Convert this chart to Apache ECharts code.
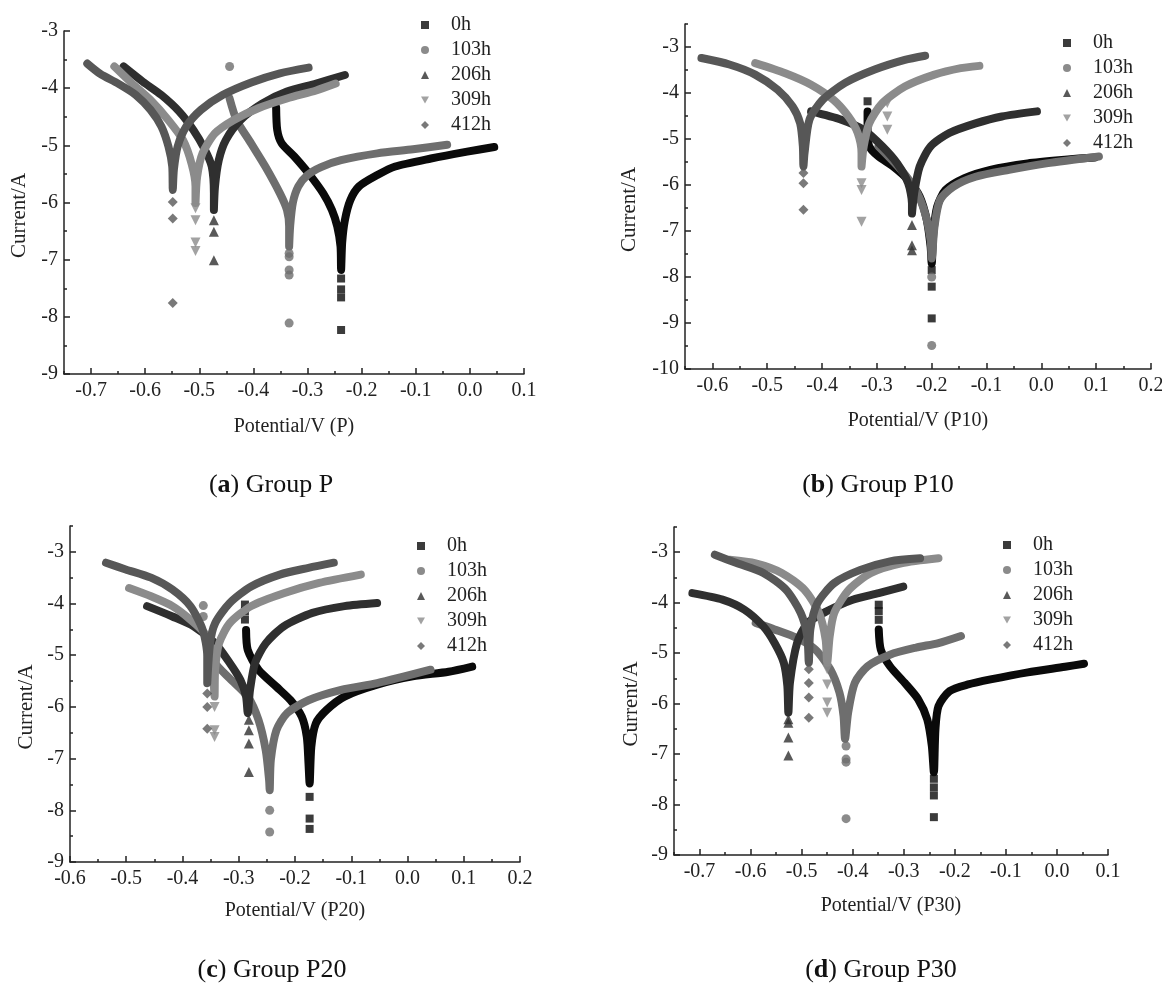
<!DOCTYPE html>
<html><head><meta charset="utf-8">
<script src="https://cdn.jsdelivr.net/npm/echarts@6/dist/echarts.min.js"></script>
<style>html,body{margin:0;padding:0;background:#fff}#c{width:1162px;height:992px}</style>
</head><body><div id="c"></div>
<script>
// ---------- categories ----------
const times = ['0h', '103h', '206h', '309h', '412h'];

// ---------- tick labels ----------
const aXTicks = [-0.7, -0.6, -0.5, -0.4, -0.3, -0.2, -0.1, 0.0, 0.1];
const aXMinor = [-0.75, -0.65, -0.55, -0.45, -0.35, -0.25, -0.15, -0.05, 0.05];
const aYTicks = [-9, -8, -7, -6, -5, -4, -3];
const aYMinor = [-8.5, -7.5, -6.5, -5.5, -4.5, -3.5];
const bXTicks = [-0.6, -0.5, -0.4, -0.3, -0.2, -0.1, 0.0, 0.1, 0.2];
const bXMinor = [-0.65, -0.55, -0.45, -0.35, -0.25, -0.15, -0.05, 0.05, 0.15];
const bYTicks = [-10, -9, -8, -7, -6, -5, -4, -3];
const bYMinor = [-9.5, -8.5, -7.5, -6.5, -5.5, -4.5, -3.5, -2.5];
const cXTicks = [-0.6, -0.5, -0.4, -0.3, -0.2, -0.1, 0.0, 0.1, 0.2];
const cXMinor = [-0.55, -0.45, -0.35, -0.25, -0.15, -0.05, 0.05, 0.15];
const cYTicks = [-9, -8, -7, -6, -5, -4, -3];
const cYMinor = [-8.5, -7.5, -6.5, -5.5, -4.5, -3.5, -2.5];
const dXTicks = [-0.7, -0.6, -0.5, -0.4, -0.3, -0.2, -0.1, 0.0, 0.1];
const dXMinor = [-0.75, -0.65, -0.55, -0.45, -0.35, -0.25, -0.15, -0.05, 0.05];
const dYTicks = [-9, -8, -7, -6, -5, -4, -3];
const dYMinor = [-8.5, -7.5, -6.5, -5.5, -4.5, -3.5, -2.5];

// ---------- (a) Group P ----------
const aLine0h = [[-0.358,-4.34],[-0.356,-4.73],[-0.348,-4.96],[-0.324,-5.20],[-0.298,-5.49],[-0.271,-5.84],[-0.255,-6.13],[-0.245,-6.42],[-0.239,-6.77],[-0.238,-7.18],[-0.236,-6.70],[-0.231,-6.31],[-0.221,-5.96],[-0.205,-5.72],[-0.171,-5.52],[-0.138,-5.37],[-0.072,-5.23],[-0.005,-5.11],[0.045,-5.03]];
const aDots0h = [[-0.238,-7.33],[-0.238,-7.52],[-0.238,-7.66],[-0.238,-8.23]];
const aLine103h = [[-0.444,-4.18],[-0.431,-4.56],[-0.404,-4.97],[-0.378,-5.37],[-0.351,-5.84],[-0.338,-6.13],[-0.334,-6.42],[-0.334,-6.77],[-0.332,-6.40],[-0.327,-6.00],[-0.317,-5.72],[-0.300,-5.52],[-0.275,-5.38],[-0.238,-5.26],[-0.171,-5.14],[-0.105,-5.07],[-0.042,-4.99]];
const aDots103h = [[-0.444,-3.62],[-0.334,-6.89],[-0.334,-6.95],[-0.334,-7.18],[-0.334,-7.27],[-0.334,-8.11]];
const aLine206h = [[-0.640,-3.62],[-0.604,-3.89],[-0.570,-4.12],[-0.537,-4.41],[-0.511,-4.73],[-0.491,-5.05],[-0.477,-5.37],[-0.473,-5.84],[-0.473,-6.13],[-0.471,-5.72],[-0.464,-5.26],[-0.451,-4.91],[-0.424,-4.56],[-0.384,-4.27],[-0.338,-4.06],[-0.284,-3.92],[-0.231,-3.77]];
const aDots206h = [[-0.473,-6.31],[-0.473,-6.51],[-0.473,-7.01]];
const aLine309h = [[-0.657,-3.62],[-0.624,-3.92],[-0.590,-4.21],[-0.557,-4.56],[-0.530,-4.91],[-0.514,-5.33],[-0.507,-5.72],[-0.507,-6.01],[-0.504,-5.55],[-0.494,-5.14],[-0.471,-4.79],[-0.437,-4.56],[-0.391,-4.35],[-0.338,-4.18],[-0.284,-4.04],[-0.248,-3.92]];
const aDots309h = [[-0.507,-6.10],[-0.507,-6.31],[-0.507,-6.70],[-0.507,-6.85]];
const aLine412h = [[-0.707,-3.57],[-0.683,-3.75],[-0.650,-3.92],[-0.617,-4.12],[-0.590,-4.38],[-0.570,-4.67],[-0.557,-5.02],[-0.550,-5.37],[-0.549,-5.78],[-0.547,-5.43],[-0.540,-5.02],[-0.524,-4.67],[-0.497,-4.38],[-0.457,-4.12],[-0.404,-3.90],[-0.351,-3.74],[-0.298,-3.64]];
const aDots412h = [[-0.549,-5.99],[-0.549,-6.28],[-0.549,-7.76]];

// ---------- (b) Group P10 ----------
const bLine0h = [[-0.317,-4.40],[-0.317,-4.80],[-0.314,-5.16],[-0.297,-5.38],[-0.270,-5.60],[-0.243,-5.89],[-0.222,-6.25],[-0.209,-6.76],[-0.202,-7.34],[-0.200,-7.71],[-0.197,-7.05],[-0.190,-6.47],[-0.175,-6.11],[-0.140,-5.85],[-0.093,-5.67],[-0.025,-5.53],[0.043,-5.45],[0.098,-5.40]];
const bDots0h = [[-0.317,-4.18],[-0.200,-7.85],[-0.200,-8.21],[-0.200,-8.90]];
const bLine103h = [[-0.297,-5.16],[-0.256,-5.67],[-0.229,-6.11],[-0.212,-6.62],[-0.202,-7.20],[-0.200,-7.60],[-0.195,-6.91],[-0.185,-6.33],[-0.161,-6.04],[-0.120,-5.82],[-0.059,-5.67],[0.009,-5.53],[0.105,-5.38]];
const bDots103h = [[-0.200,-8.00],[-0.200,-9.49]];
const bLine206h = [[-0.420,-4.40],[-0.365,-4.58],[-0.324,-4.80],[-0.290,-5.16],[-0.263,-5.53],[-0.243,-5.96],[-0.236,-6.40],[-0.236,-6.62],[-0.232,-6.18],[-0.222,-5.60],[-0.202,-5.16],[-0.168,-4.87],[-0.120,-4.66],[-0.072,-4.51],[-0.008,-4.40]];
const bDots206h = [[-0.236,-6.87],[-0.236,-7.31],[-0.236,-7.42]];
const bLine309h = [[-0.522,-3.35],[-0.467,-3.57],[-0.420,-3.82],[-0.379,-4.15],[-0.352,-4.51],[-0.335,-4.87],[-0.328,-5.31],[-0.328,-5.60],[-0.324,-5.16],[-0.314,-4.66],[-0.290,-4.22],[-0.249,-3.86],[-0.195,-3.60],[-0.147,-3.46],[-0.113,-3.41]];
const bDots309h = [[-0.328,-5.96],[-0.328,-6.11],[-0.328,-6.80],[-0.281,-4.22],[-0.281,-4.51],[-0.281,-4.80]];
const bLine412h = [[-0.620,-3.24],[-0.569,-3.38],[-0.522,-3.60],[-0.481,-3.93],[-0.454,-4.29],[-0.440,-4.66],[-0.435,-5.16],[-0.434,-5.60],[-0.432,-5.31],[-0.423,-4.58],[-0.399,-4.15],[-0.358,-3.78],[-0.304,-3.49],[-0.249,-3.28],[-0.212,-3.19]];
const bDots412h = [[-0.434,-5.74],[-0.434,-5.96],[-0.434,-6.54]];

// ---------- (c) Group P20 ----------
const cLine0h = [[-0.287,-4.51],[-0.284,-4.90],[-0.265,-5.28],[-0.233,-5.61],[-0.208,-5.87],[-0.188,-6.19],[-0.179,-6.58],[-0.176,-7.09],[-0.174,-7.48],[-0.171,-6.77],[-0.163,-6.32],[-0.144,-6.06],[-0.112,-5.80],[-0.054,-5.57],[0.009,-5.41],[0.073,-5.32],[0.115,-5.22]];
const cDots0h = [[-0.289,-4.02],[-0.289,-4.15],[-0.289,-4.31],[-0.174,-7.74],[-0.174,-8.16],[-0.174,-8.36]];
const cLine103h = [[-0.354,-4.77],[-0.342,-5.15],[-0.316,-5.45],[-0.284,-5.80],[-0.265,-6.25],[-0.252,-6.84],[-0.246,-7.42],[-0.245,-7.61],[-0.243,-7.03],[-0.233,-6.45],[-0.214,-6.12],[-0.176,-5.87],[-0.118,-5.67],[-0.054,-5.54],[0.041,-5.28]];
const cDots103h = [[-0.363,-4.04],[-0.363,-4.25],[-0.245,-8.00],[-0.245,-8.42]];
const cLine206h = [[-0.463,-4.05],[-0.418,-4.25],[-0.380,-4.44],[-0.342,-4.77],[-0.316,-5.15],[-0.297,-5.48],[-0.287,-5.80],[-0.284,-6.12],[-0.280,-5.67],[-0.271,-5.15],[-0.252,-4.77],[-0.220,-4.44],[-0.169,-4.18],[-0.112,-4.05],[-0.054,-3.99]];
const cDots206h = [[-0.282,-6.25],[-0.282,-6.45],[-0.282,-6.71],[-0.282,-7.26]];
const cLine309h = [[-0.495,-3.70],[-0.456,-3.86],[-0.418,-4.05],[-0.386,-4.31],[-0.361,-4.57],[-0.348,-4.90],[-0.345,-5.41],[-0.343,-5.80],[-0.342,-5.28],[-0.335,-4.77],[-0.316,-4.38],[-0.278,-4.05],[-0.220,-3.80],[-0.157,-3.60],[-0.083,-3.44]];
const cDots309h = [[-0.343,-6.00],[-0.343,-6.45],[-0.343,-6.58]];
const cLine412h = [[-0.536,-3.21],[-0.501,-3.34],[-0.456,-3.50],[-0.418,-3.73],[-0.386,-4.05],[-0.364,-4.51],[-0.356,-5.02],[-0.356,-5.54],[-0.351,-4.77],[-0.342,-4.38],[-0.316,-3.99],[-0.278,-3.67],[-0.227,-3.44],[-0.176,-3.31],[-0.131,-3.21]];
const cDots412h = [[-0.356,-5.74],[-0.356,-6.00],[-0.356,-6.42]];

// ---------- (d) Group P30 ----------
const dLine0h = [[-0.349,-4.53],[-0.345,-4.93],[-0.327,-5.26],[-0.298,-5.59],[-0.272,-5.91],[-0.254,-6.31],[-0.245,-6.84],[-0.241,-7.36],[-0.238,-6.51],[-0.232,-6.05],[-0.210,-5.75],[-0.174,-5.62],[-0.130,-5.52],[-0.057,-5.38],[0.016,-5.27],[0.053,-5.21]];
const dDots0h = [[-0.349,-4.04],[-0.349,-4.17],[-0.349,-4.34],[-0.241,-7.49],[-0.241,-7.66],[-0.241,-7.82],[-0.241,-8.25]];
const dLine103h = [[-0.590,-4.40],[-0.553,-4.53],[-0.509,-4.70],[-0.473,-4.93],[-0.444,-5.32],[-0.426,-5.78],[-0.418,-6.24],[-0.415,-6.70],[-0.409,-6.18],[-0.396,-5.59],[-0.371,-5.26],[-0.327,-5.03],[-0.276,-4.89],[-0.232,-4.80],[-0.188,-4.66]];
const dDots103h = [[-0.413,-6.84],[-0.413,-7.10],[-0.413,-7.16],[-0.413,-8.28]];
const dLine206h = [[-0.714,-3.81],[-0.655,-3.94],[-0.612,-4.14],[-0.575,-4.47],[-0.553,-4.80],[-0.535,-5.19],[-0.528,-5.65],[-0.526,-6.18],[-0.523,-5.59],[-0.509,-4.80],[-0.488,-4.40],[-0.451,-4.17],[-0.400,-3.94],[-0.349,-3.81],[-0.301,-3.68]];
const dDots206h = [[-0.526,-6.31],[-0.526,-6.38],[-0.526,-6.67],[-0.526,-7.03]];
const dLine309h = [[-0.641,-3.15],[-0.590,-3.22],[-0.539,-3.41],[-0.495,-3.74],[-0.466,-4.20],[-0.453,-4.73],[-0.450,-5.19],[-0.445,-4.66],[-0.436,-4.20],[-0.407,-3.74],[-0.364,-3.41],[-0.305,-3.22],[-0.232,-3.12]];
const dDots309h = [[-0.450,-5.32],[-0.450,-5.62],[-0.450,-5.98],[-0.450,-6.18]];
const dLine412h = [[-0.670,-3.05],[-0.626,-3.22],[-0.575,-3.41],[-0.531,-3.74],[-0.502,-4.20],[-0.489,-4.66],[-0.486,-5.19],[-0.483,-4.53],[-0.469,-4.01],[-0.436,-3.61],[-0.385,-3.35],[-0.327,-3.18],[-0.268,-3.12]];
const dDots412h = [[-0.486,-5.32],[-0.486,-5.59],[-0.486,-5.88],[-0.486,-6.28]];

// ---------- styling ----------
const FONT = 'Liberation Serif';
const colors = ['#0a0a0a', '#6e6e6e', '#2f2f2f', '#8b8b8b', '#575757'];
const symbols = ['rect', 'circle', 'triangle', 'path://M0,0L10,0L5,9Z', 'diamond'];
const symbolSizes = [8, 9, 10, 10, 10];

const panels = [
  { grid: {left: 64, top: 31, width: 460, height: 343}, xMin: -0.75, xMax: 0.1, yMin: -9, yMax: -3,
    xTicks: aXTicks, xMinor: aXMinor, yTicks: aYTicks, yMinor: aYMinor,
    xName: 'Potential/V (P)', xNameGap: 43, yNameGap: 34,
    lines: [aLine0h, aLine103h, aLine206h, aLine309h, aLine412h],
    dots: [aDots0h, aDots103h, aDots206h, aDots309h, aDots412h],
    legend: {left: 421, top: 15}, cap: {x: 271, y: 485, letter: 'a', text: ' Group P'} },
  { grid: {left: 685, top: 24, width: 466, height: 345}, xMin: -0.65, xMax: 0.2, yMin: -10, yMax: -2.5,
    xTicks: bXTicks, xMinor: bXMinor, yTicks: bYTicks, yMinor: bYMinor,
    xName: 'Potential/V (P10)', xNameGap: 42, yNameGap: 45,
    lines: [bLine0h, bLine103h, bLine206h, bLine309h, bLine412h],
    dots: [bDots0h, bDots103h, bDots206h, bDots309h, bDots412h],
    legend: {left: 1063, top: 33}, cap: {x: 878, y: 485, letter: 'b', text: ' Group P10'} },
  { grid: {left: 70, top: 526, width: 450, height: 336}, xMin: -0.6, xMax: 0.2, yMin: -9, yMax: -2.5,
    xTicks: cXTicks, xMinor: cXMinor, yTicks: cYTicks, yMinor: cYMinor,
    xName: 'Potential/V (P20)', xNameGap: 39, yNameGap: 33,
    lines: [cLine0h, cLine103h, cLine206h, cLine309h, cLine412h],
    dots: [cDots0h, cDots103h, cDots206h, cDots309h, cDots412h],
    legend: {left: 417, top: 536}, cap: {x: 272, y: 970, letter: 'c', text: ' Group P20'} },
  { grid: {left: 674, top: 527, width: 434, height: 328}, xMin: -0.75, xMax: 0.1, yMin: -9, yMax: -2.5,
    xTicks: dXTicks, xMinor: dXMinor, yTicks: dYTicks, yMinor: dYMinor,
    xName: 'Potential/V (P30)', xNameGap: 41, yNameGap: 32,
    lines: [dLine0h, dLine103h, dLine206h, dLine309h, dLine412h],
    dots: [dDots0h, dDots103h, dDots206h, dDots309h, dDots412h],
    legend: {left: 1003, top: 535}, cap: {x: 881, y: 970, letter: 'd', text: ' Group P30'} }
];

const grids = [], xAxes = [], yAxes = [], series = [], legends = [], graphics = [];
const axisLineStyle = {color: '#222', width: 1.5};

panels.forEach((p, i) => {
  grids.push(Object.assign({outerBoundsMode: 'none', containLabel: false}, p.grid));
  xAxes.push({
    type: 'value', gridIndex: i, position: 'bottom', min: p.xMin, max: p.xMax,
    name: p.xName, nameLocation: 'middle', nameGap: p.xNameGap,
    nameTextStyle: {fontFamily: FONT, fontSize: 20, color: '#222'},
    axisLine: {show: true, onZero: false, lineStyle: axisLineStyle},
    axisTick: {show: true, inside: true, length: 6, customValues: p.xTicks, lineStyle: axisLineStyle},
    axisLabel: {show: true, customValues: p.xTicks, margin: 7, fontFamily: FONT, fontSize: 20, color: '#222',
      formatter: v => v.toFixed(1), hideOverlap: false},
    splitLine: {show: false}
  });
  xAxes.push({
    type: 'value', gridIndex: i, position: 'bottom', offset: 0, min: p.xMin, max: p.xMax,
    axisLine: {show: false, onZero: false},
    axisTick: {show: true, inside: true, length: 3, customValues: p.xMinor, lineStyle: axisLineStyle},
    axisLabel: {show: false}, splitLine: {show: false}
  });
  yAxes.push({
    type: 'value', gridIndex: i, position: 'left', min: p.yMin, max: p.yMax,
    name: 'Current/A', nameLocation: 'middle', nameGap: p.yNameGap,
    nameTextStyle: {fontFamily: FONT, fontSize: 21, color: '#222', padding: [0, 26, 0, 0]},
    axisLine: {show: true, onZero: false, lineStyle: axisLineStyle},
    axisTick: {show: true, inside: true, length: 6, customValues: p.yTicks, lineStyle: axisLineStyle},
    axisLabel: {show: true, customValues: p.yTicks, margin: 6, fontFamily: FONT, fontSize: 20, color: '#222',
      formatter: v => String(v), hideOverlap: false},
    splitLine: {show: false}
  });
  yAxes.push({
    type: 'value', gridIndex: i, position: 'left', offset: 0, min: p.yMin, max: p.yMax,
    axisLine: {show: false, onZero: false},
    axisTick: {show: true, inside: true, length: 3, customValues: p.yMinor, lineStyle: axisLineStyle},
    axisLabel: {show: false}, splitLine: {show: false}
  });

  times.forEach((t, k) => {
    series.push({
      type: 'scatter', name: t, xAxisIndex: 2 * i, yAxisIndex: 2 * i,
      data: p.dots[k], symbol: symbols[k], symbolSize: symbolSizes[k],
      itemStyle: {color: colors[k]}, silent: true, z: 2 + k
    });
    series.push({
      type: 'line', name: t, xAxisIndex: 2 * i, yAxisIndex: 2 * i,
      data: p.lines[k], showSymbol: false, symbol: 'none', smooth: 0.25,
      lineStyle: {color: colors[k], width: 8, cap: 'round', join: 'round'},
      itemStyle: {color: colors[k]}, silent: true, z: 2 + k
    });
  });

  legends.push({
    left: p.legend.left, top: p.legend.top, orient: 'vertical', selectedMode: false,
    itemWidth: 8, itemHeight: 8, itemGap: 5, padding: 0,
    data: times.map((t, k) => ({name: t, icon: symbols[k], itemStyle: {color: colors[k]}})),
    textStyle: {fontFamily: FONT, fontSize: 20, color: '#222', lineHeight: 20, padding: [0, 0, 0, 17]}
  });

  graphics.push({
    type: 'text', x: p.cap.x, y: p.cap.y,
    style: {
      text: '{n|(}{b|' + p.cap.letter + '}{n|)' + p.cap.text + '}',
      align: 'center', verticalAlign: 'middle',
      rich: {
        n: {fontFamily: FONT, fontSize: 26, fill: '#111'},
        b: {fontFamily: FONT, fontSize: 26, fontWeight: 'bold', fill: '#111'}
      }
    }
  });
});

const chart = echarts.init(document.getElementById('c'), null, {renderer: 'canvas'});
chart.setOption({
  backgroundColor: '#fff',
  animation: false,
  grid: grids, xAxis: xAxes, yAxis: yAxes, series: series, legend: legends, graphic: graphics
});
</script>
</body></html>
